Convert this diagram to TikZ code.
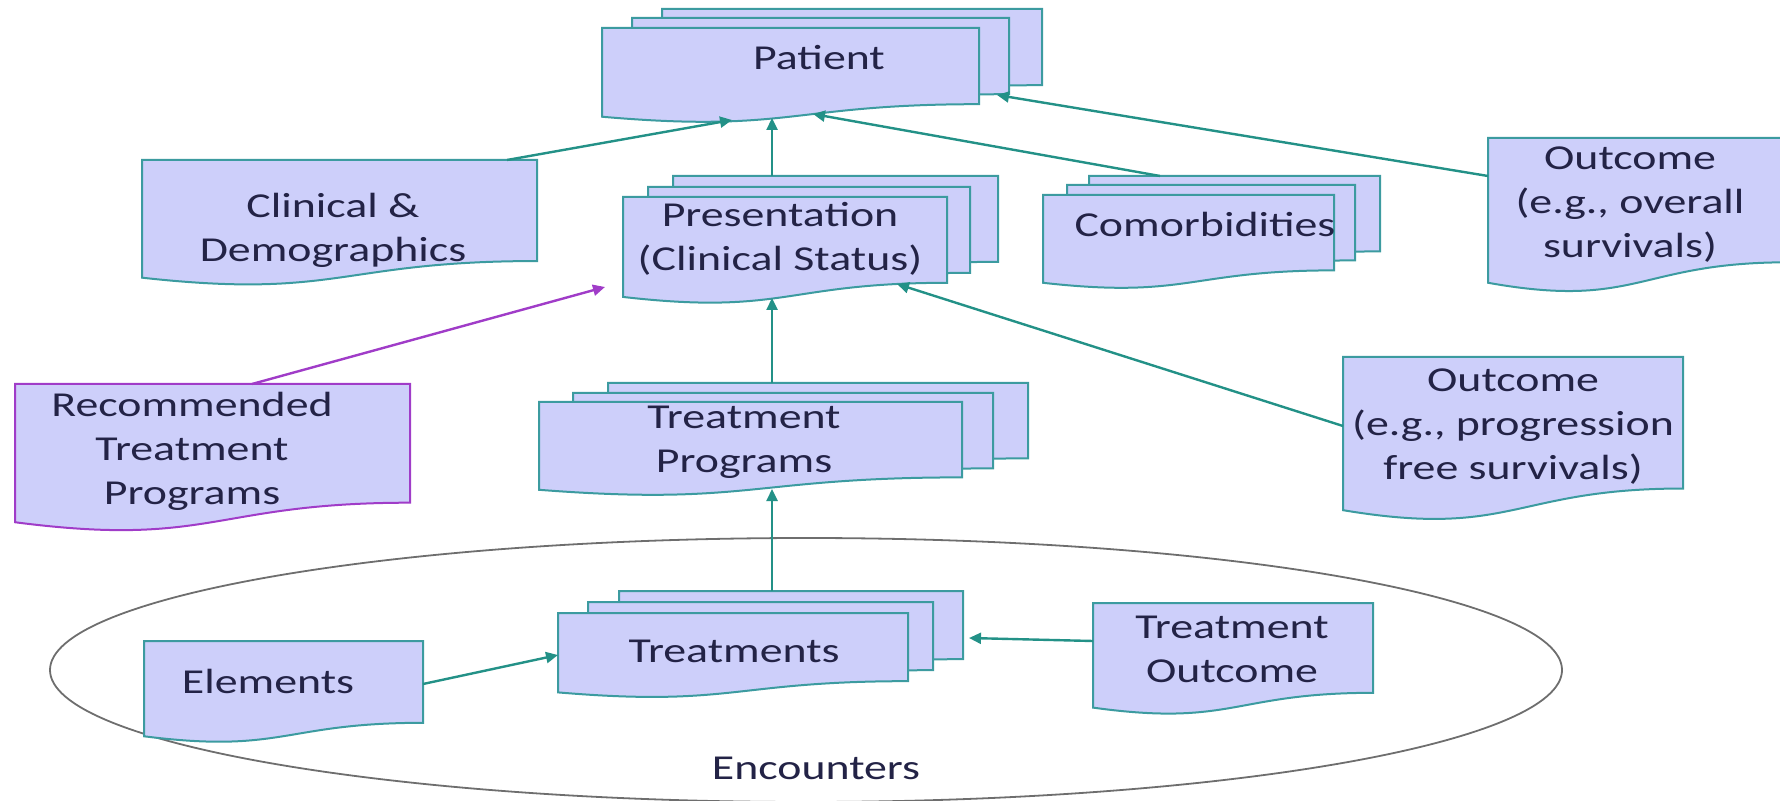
\documentclass[tikz,border=0pt]{standalone}
\usepackage{fontspec}
\setmainfont{Carlito}[FakeStretch=1.31]
\usetikzlibrary{arrows.meta,calc}
\definecolor{boxfill}{RGB}{205,207,250}
\definecolor{boxline}{RGB}{60,155,160}
\definecolor{arrowc}{RGB}{35,145,135}
\definecolor{recline}{RGB}{160,60,200}
\definecolor{txt}{RGB}{35,35,70}
\definecolor{ellc}{RGB}{110,110,110}
\newcommand\docbox[6][]{%
  \path[docfill,#1] ({#3},{#4}) -- ({#3+#5},{#4}) -- ({#3+#5},{#4+0.802*#6})
    .. controls ({#3+0.5*#5},{#4+0.802*#6}) and ({#3+0.5*#5},{#4+1.1075*#6}) .. ({#3},{#4+0.934*#6}) -- cycle;
  \node[inner sep=0pt, outer sep=0pt, minimum width={#5*0.5pt}, minimum height={0.934*#6*0.5pt}, anchor=north west] (#2) at ({#3},{#4}) {};
}
\begin{document}
\begin{tikzpicture}[x=0.5pt,y=-0.5pt,
  docfill/.style={fill=boxfill, draw=boxline, line width=1pt},
  lbl/.style={text=txt, align=center, inner sep=0pt, font=\fontsize{17.5}{#1}\selectfont},
  lbl/.default=22,
  conn/.style={draw=arrowc, line width=1.2pt, -{Triangle[length=6pt,width=5.5pt]}},
  recconn/.style={conn, draw=recline}]
\useasboundingbox (0,0) rectangle (1780,801);
\draw[ellc, line width=0.9pt] (806,670) ellipse [x radius=756, y radius=132];
% boxes
\docbox{patient3}{662}{9}{380}{95}
\docbox{patient2}{632}{18}{377}{95}
\docbox{patient}{602}{28}{377}{95}
\docbox{clin}{142}{160}{395}{126}
\docbox{pres3}{673}{176}{325}{107}
\docbox{pres2}{648}{187}{322}{107}
\docbox{pres}{623}{197}{324}{107}
\docbox{comor3}{1089}{176}{291}{94}
\docbox{comor2}{1067}{185}{288}{94}
\docbox{comor}{1043}{195}{291}{94}
\docbox{out1}{1488}{138}{300}{155}
\docbox{out2}{1343}{357}{340}{164}
\docbox[draw=recline]{rec}{15}{384}{395}{148}
\docbox{tp3}{608}{383}{420}{94}
\docbox{tp2}{573}{393}{420}{94}
\docbox{tp}{539}{402}{423}{94}
\docbox{tr3}{619}{591}{344}{85}
\docbox{tr2}{588}{602}{345}{85}
\docbox{tr}{558}{613}{350}{85}
\docbox{elem}{144}{641}{279}{102}
\docbox{tout}{1093}{603}{280}{112}
% texts
\node[lbl] (patient-t) at (819,58) {Patient};
\node[lbl] (clin-t) at (333,230) {Clinical \&\\Demographics};
\node[lbl] (pres-t) at (780,239) {Presentation\\(Clinical Status)};
\node[lbl] (comor-t) at (1205,224) {Comorbidities};
\node[lbl] (out1-t) at (1630,205) {Outcome\\(e.g., overall\\survivals)};
\node[lbl] (out2-t) at (1513,427) {Outcome\\(e.g., progression\\free survivals)};
\node[lbl] (rec-t) at (192,451) {Recommended\\Treatment\\Programs};
\node[lbl] (tp-t) at (744,442) {Treatment\\Programs};
\node[lbl] (tr-t) at (734,651) {Treatments};
\node[lbl] (elem-t) at (268,681) {Elements};
\node[lbl] (tout-t) at (1232,649) {Treatment\\Outcome};
\node[lbl] (enc-t) at (816,768) {Encounters};
% connectors
\draw[conn] ($(clin.north west)+(365,0)$) -- ($(patient.north west)+(130,92)$);
\draw[conn] ($(pres3.north west)+(99,0)$) -- ($(patient.north west)+(170,90)$);
\draw[conn] ($(comor3.north west)+(71,0)$) -- ($(patient.north west)+(211,86)$);
\draw[conn] ($(out1.north west)+(0,38)$) -- ($(patient2.north west)+(365,77)$);
\draw[recconn] ($(rec.north west)+(237,0)$) -- ($(pres.north west)+(-18,90)$);
\draw[conn] ($(tp3.north west)+(164,0)$) -- ($(pres.north west)+(149,101)$);
\draw[conn] ($(out2.north west)+(0,69)$) -- ($(pres.north west)+(274,87)$);
\draw[conn] ($(tr3.north west)+(153,0)$) -- ($(tp.north west)+(233,87)$);
\draw[conn] ($(elem.north west)+(279,43)$) -- ($(tr.north west)+(0,42)$);
\draw[conn] ($(tout.north west)+(0,38)$) -- ($(tr3.north west)+(350,47)$);
\end{tikzpicture}
\end{document}
